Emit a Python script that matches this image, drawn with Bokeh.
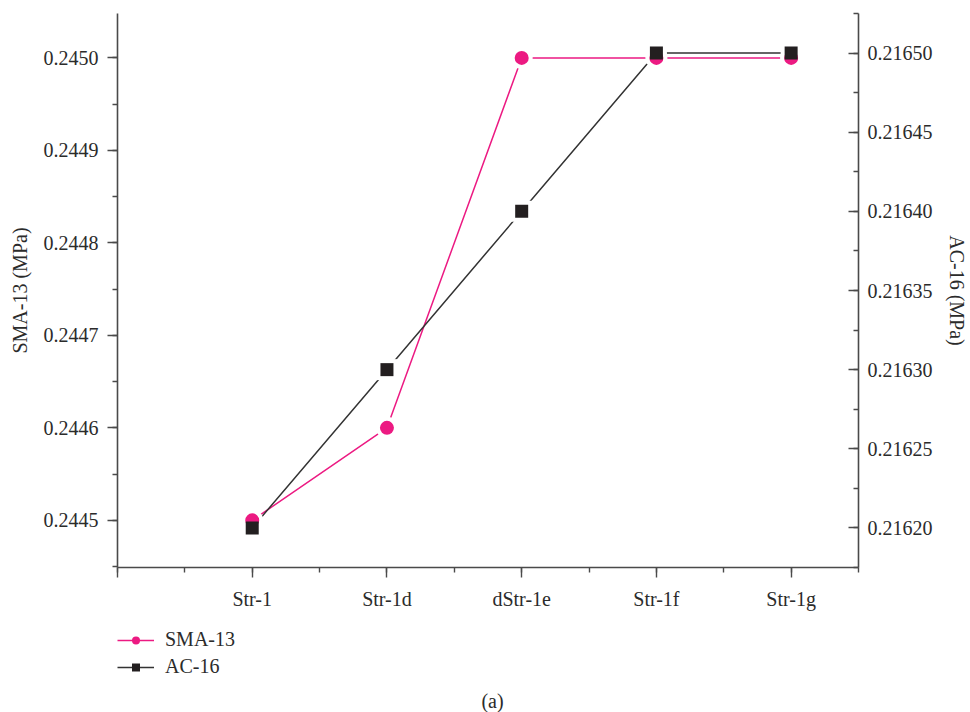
from bokeh.plotting import figure
from bokeh.layouts import column
from bokeh.models import (Range1d, LinearAxis, SingleIntervalTicker, PrintfTickFormatter,
                          Legend, LegendItem, Label)
from bokeh.embed import file_html
from bokeh.resources import INLINE

categories = ["Str-1", "Str-1d", "dStr-1e", "Str-1f", "Str-1g"]
sma13 = [0.2445, 0.2446, 0.2450, 0.2450, 0.2450]
ac16 = [0.21620, 0.21630, 0.21640, 0.21650, 0.21650]
series_names = ["SMA-13", "AC-16"]

xs = list(range(1, len(categories) + 1))

FONT = "Liberation Serif"
TXT = "#2b2b2b"
AX = "#4a4a4a"
PINK = "#ec1a82"
BLACK = "#231f20"
FS = "20px"

W = 970
H_MAIN = 620
H_LEG = 92

p = figure(width=W, height=H_MAIN, output_backend="svg", toolbar_location=None,
           x_range=Range1d(0, 5.5), y_range=Range1d(0.244449, 0.245048),
           min_border_left=117, min_border_right=108, min_border_top=13,
           min_border_bottom=53)
p.extra_y_ranges = {"ac": Range1d(0.216175, 0.216525)}
p.outline_line_color = None
p.grid.visible = False

# x axis
xa = p.xaxis[0]
xa.ticker = SingleIntervalTicker(interval=1, num_minor_ticks=2)
overrides = {0: ""}
for i, c in zip(xs, categories):
    overrides[i] = c
xa.major_label_overrides = overrides

# left axis
ya = p.yaxis[0]
ya.ticker = SingleIntervalTicker(interval=0.0001, num_minor_ticks=2)
ya.formatter = PrintfTickFormatter(format="%.4f")
ya.axis_label = "SMA-13 (MPa)"

# right axis
ra = LinearAxis(y_range_name="ac",
                ticker=SingleIntervalTicker(interval=0.00005, num_minor_ticks=2),
                formatter=PrintfTickFormatter(format="%.5f"),
                axis_label="AC-16 (MPa)")
p.add_layout(ra, "right")

for ax in [xa, ya, ra]:
    ax.axis_line_color = AX
    ax.axis_line_width = 1.6
    ax.major_tick_line_color = AX
    ax.minor_tick_line_color = AX
    ax.major_tick_line_width = 1.4
    ax.minor_tick_line_width = 1.4
    ax.major_label_text_font = FONT
    ax.major_label_text_font_size = FS
    ax.major_label_text_color = TXT
    ax.axis_label_text_font = FONT
    ax.axis_label_text_font_size = FS
    ax.axis_label_text_font_style = "normal"
    ax.axis_label_text_color = TXT

xa.major_tick_out = 10
xa.major_tick_in = 0
xa.minor_tick_out = 5
xa.minor_tick_in = 0
xa.major_label_standoff = 10

ya.major_tick_out = 10
ya.major_tick_in = 0
ya.minor_tick_out = 5
ya.minor_tick_in = 0
ya.major_label_standoff = 9
ya.axis_label_standoff = 10

ra.major_tick_out = 0
ra.major_tick_in = 10
ra.minor_tick_out = 0
ra.minor_tick_in = 5
ra.major_label_standoff = 9
ra.axis_label_standoff = 10

# lines
p.line(xs, sma13, line_color=PINK, line_width=1.5)
p.line(xs, ac16, line_color="#333333", line_width=1.5, y_range_name="ac")
# halos to produce gaps around markers
p.scatter(xs, sma13, marker="circle", size=22, fill_color="white", line_color=None)
p.scatter(xs, ac16, marker="square", size=21, fill_color="white", line_color=None,
          y_range_name="ac")
p.scatter(xs, sma13, marker="circle", size=14, fill_color=PINK, line_color=None)
p.scatter(xs, ac16, marker="square", size=13, fill_color=BLACK, line_color=None,
          y_range_name="ac")

# legend + caption strip below the chart (its renderers fall outside its range,
# so only the legend swatches are seen)
q = figure(width=W, height=H_LEG, output_backend="svg", toolbar_location=None,
           x_range=Range1d(0, 5.5), y_range=Range1d(10, 20),
           min_border_left=117, min_border_right=108,
           min_border_top=0, min_border_bottom=0)
q.axis.visible = False
q.grid.visible = False
q.outline_line_color = None

e1 = q.line(xs, sma13, line_color=PINK, line_width=1.5)
f1 = q.scatter(xs, sma13, marker="circle", size=14, fill_color=PINK, line_color=None)
e2 = q.line(xs, ac16, line_color="#333333", line_width=1.5)
f2 = q.scatter(xs, ac16, marker="square", size=13, fill_color=BLACK, line_color=None)

legend = Legend(items=[LegendItem(label=series_names[0], renderers=[e1, f1]),
                       LegendItem(label=series_names[1], renderers=[e2, f2])],
                location=(0, 34), orientation="vertical")
legend.background_fill_alpha = 0
legend.border_line_color = None
legend.padding = 0
legend.margin = 0
legend.spacing = 4
legend.glyph_width = 37
legend.glyph_height = 20
legend.label_height = 20
legend.label_standoff = 11
legend.label_text_font = FONT
legend.label_text_font_size = FS
legend.label_text_color = TXT
q.add_layout(legend)

cap = Label(x=375, y=12, x_units="screen", y_units="screen", text="(a)",
            text_align="center", text_baseline="middle", text_font=FONT,
            text_font_size=FS, text_color=TXT)
q.add_layout(cap)

layout = column(p, q, spacing=0)
open("out.html", "w").write(file_html(layout, INLINE))
